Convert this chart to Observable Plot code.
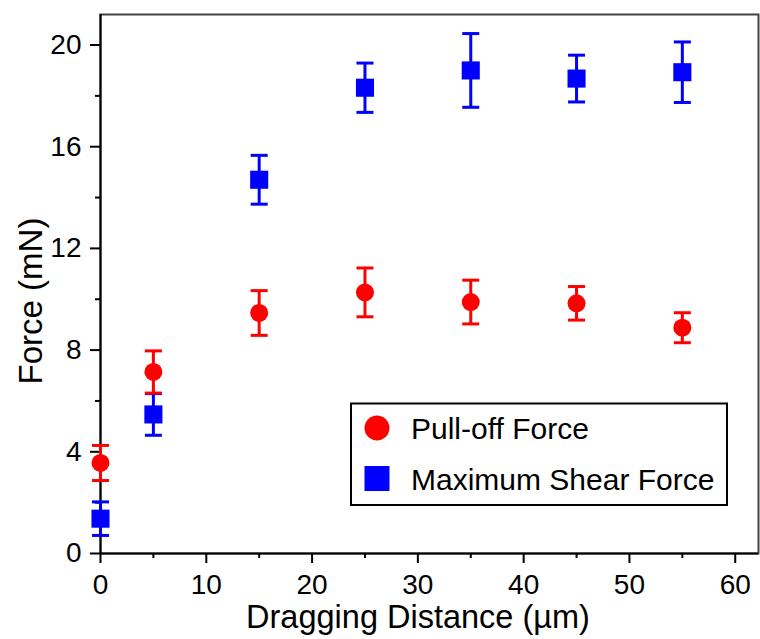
<!DOCTYPE html>
<html>
<head>
<meta charset="utf-8">
<script src="https://cdn.jsdelivr.net/npm/d3@7"></script>
<script src="https://cdn.jsdelivr.net/npm/@observablehq/plot@0.6"></script>
<style>
  html, body { margin: 0; padding: 0; background: #fff; }
  #chart { width: 760px; height: 639px; }
</style>
</head>
<body>
<div id="chart"></div>
<script>
// ---- data ----
const distance   = [0, 5, 15, 25, 35, 45, 55];
const pullOff    = [3.56, 7.14, 9.46, 10.27, 9.89, 9.84, 8.88];
const pullOffErr = [0.69, 0.83, 0.88, 0.96, 0.86, 0.66, 0.59];
const shear      = [1.37, 5.47, 14.70, 18.32, 19.00, 18.68, 18.93];
const shearErr   = [0.66, 0.82, 0.96, 0.97, 1.45, 0.92, 1.19];
const seriesNames = ["Pull-off Force", "Maximum Shear Force"];
const xTitle = "Dragging Distance (µm)";
const yTitle = "Force (mN)";
const xMajor = [0, 10, 20, 30, 40, 50, 60];
const xMinor = [5, 15, 25, 35, 45, 55];
const yMajor = [0, 4, 8, 12, 16, 20];
const yMinor = [2, 6, 10, 14, 18];

const RED = "#ff0000", BLUE = "#0000ff";

const pullRows = distance.map((d, i) => ({x: d, y: pullOff[i], lo: pullOff[i] - pullOffErr[i], hi: pullOff[i] + pullOffErr[i]}));
const shearRows = distance.map((d, i) => ({x: d, y: shear[i], lo: shear[i] - shearErr[i], hi: shear[i] + shearErr[i]}));

// horizontal cap symbol for error bars
const cap = { draw(ctx, size) { const h = 8.5; ctx.moveTo(-h, 0); ctx.lineTo(h, 0); } };

function errorMarks(rows, color) {
  return [
    Plot.ruleX(rows, {x: "x", y1: "lo", y2: "hi", stroke: color, strokeWidth: 3}),
    Plot.dot(rows, {x: "x", y: "lo", symbol: cap, stroke: color, strokeWidth: 3, fill: "none"}),
    Plot.dot(rows, {x: "x", y: "hi", symbol: cap, stroke: color, strokeWidth: 3, fill: "none"})
  ];
}

const FONT = "'Liberation Sans', Arial, sans-serif";

const chart = Plot.plot({
  width: 760,
  height: 639,
  marginLeft: 100,
  marginRight: 2,
  marginTop: 14,
  marginBottom: 86,
  style: {fontFamily: FONT, background: "#fff", color: "#000"},
  x: {domain: [0, 62.2]},
  y: {domain: [0, 21.2]},
  marks: [
    Plot.frame({stroke: "#444", strokeWidth: 2}),
    Plot.axisX({ticks: xMajor, tickSize: 10, tickPadding: 11, tickFormat: d => String(d), fontSize: 28, strokeWidth: 2, label: null}),
    Plot.axisX({ticks: xMinor, tickSize: 5, text: null, strokeWidth: 2, label: null}),
    Plot.axisY({ticks: yMajor, tickSize: 10, tickPadding: 9, tickFormat: d => String(d), fontSize: 28, strokeWidth: 2, label: null}),
    Plot.axisY({ticks: yMinor, tickSize: 5, text: null, strokeWidth: 2, label: null}),
    Plot.ruleX([0], {stroke: "#000", strokeWidth: 2}),
    Plot.ruleY([0], {stroke: "#000", strokeWidth: 2}),
    ...errorMarks(shearRows, BLUE),
    ...errorMarks(pullRows, RED),
    Plot.dot(pullRows, {x: "x", y: "y", symbol: "circle", r: 9, fill: RED, stroke: "none"}),
    Plot.dot(shearRows, {x: "x", y: "y", symbol: "square", r: 10.2, fill: BLUE, stroke: "none"})
  ]
});

const svg = d3.select(chart);

// axis titles (layout in pixels)
svg.append("text").attr("x", 418).attr("y", 628).attr("text-anchor", "middle")
  .attr("font-family", FONT).attr("font-size", 32.5).attr("fill", "#000").text(xTitle);
svg.append("text").attr("transform", "translate(42,301) rotate(-90)").attr("text-anchor", "middle")
  .attr("font-family", FONT).attr("font-size", 33).attr("fill", "#000").text(yTitle);

// legend (layout in pixels)
const lg = svg.append("g").attr("font-family", FONT).attr("font-size", 30).attr("text-anchor", "start");
lg.append("rect").attr("x", 351).attr("y", 403.5).attr("width", 376).attr("height", 101.5)
  .attr("fill", "#fff").attr("stroke", "#000").attr("stroke-width", 2);
lg.append("circle").attr("cx", 377).attr("cy", 428).attr("r", 12.5).attr("fill", RED);
lg.append("rect").attr("x", 364.5).attr("y", 466).attr("width", 25).attr("height", 25).attr("fill", BLUE);
lg.append("text").attr("x", 411).attr("y", 438.5).attr("fill", "#000").text(seriesNames[0]);
lg.append("text").attr("x", 411).attr("y", 489.5).attr("fill", "#000").text(seriesNames[1]);

document.getElementById("chart").appendChild(chart);
</script>
</body>
</html>
